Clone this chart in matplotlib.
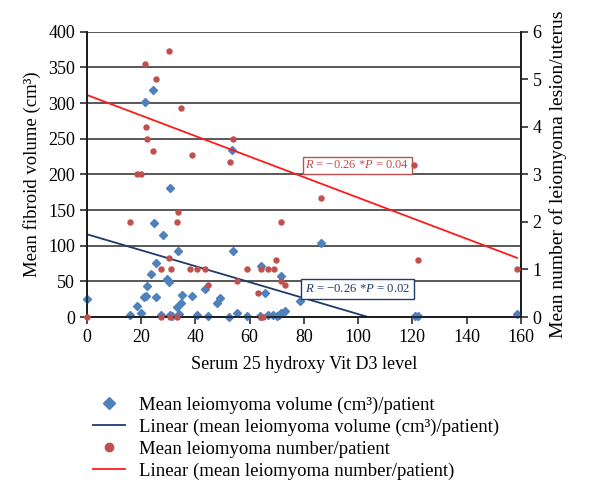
import matplotlib
matplotlib.use('Agg')
import matplotlib.pyplot as plt
from matplotlib.lines import Line2D

plt.rcParams['font.family'] = ['Liberation Serif', 'DejaVu Serif']
plt.rcParams['mathtext.fontset'] = 'custom'
plt.rcParams['mathtext.rm'] = 'Liberation Serif'
plt.rcParams['mathtext.it'] = 'Liberation Serif:italic'

# Mean leiomyoma volume (cm3)/patient  (left axis)
vol_x = [0, 15.9, 18.4, 20.1, 21.0, 21.7, 21.5, 22.0, 23.5, 24.4, 24.6, 25.3, 25.3,
         27.4, 28.1, 29.6, 30.4, 30.7, 30.7, 31.2, 33.2, 33.5, 34.0, 34.5, 35.0,
         38.8, 40.6, 43.5, 44.7, 47.9, 49.1, 52.5, 53.3, 53.8, 55.2, 59.0, 64.0,
         63.7, 65.6, 66.9, 68.7, 70.0, 70.9, 71.4, 71.7, 73.1, 78.5, 86.4, 121.1,
         122.1, 158.6]
vol_y = [25, 3, 16, 6, 28, 29, 301, 44, 60, 318, 132, 76, 28,
         3, 115, 54, 49, 181, 3, 2, 14, 93, 4, 19, 31,
         29, 3, 39, 1, 19, 26, 0.5, 234, 92, 6, 1, 71,
         1, 33, 3, 3, 1, 3, 58, 6, 8, 22, 104, 1,
         2, 4]

# Mean leiomyoma number/patient  (right axis)
num_x = [0, 15.9, 18.4, 20.1, 21.5, 21.7, 22.0, 24.4, 25.3, 27.4, 27.4, 30.4,
         30.4, 31.0, 30.7, 33.1, 33.5, 33.2, 34.5, 38.1, 38.8, 40.6, 43.5, 44.7,
         52.6, 53.8, 55.2, 59.0, 63.1, 64.0, 64.0, 64.8, 66.9, 69.0, 69.8, 71.4,
         71.4, 73.1, 86.4, 120.5, 122.1, 158.6]
num_y = [0, 2.0, 3.0, 3.0, 5.33, 4.0, 3.75, 3.5, 5.0, 1.0, 0, 5.6,
         1.25, 1.0, 0, 2.0, 2.2, 0, 4.4, 1.0, 3.4, 1.0, 1.0, 0.67,
         3.25, 3.75, 0.75, 1.0, 0.5, 1.0, 0, 0, 1.0, 1.0, 1.2, 2.0,
         0.75, 0.67, 2.5, 3.2, 1.2, 1.0]

# Linear trend lines: (intercept, slope, x_start, x_end)
vol_fit = (116.0, -1.119, 0, 103.7)
num_fit = (4.67, -0.0216, 0, 158.6)

x_ticks = [0, 20, 40, 60, 80, 100, 120, 140, 160]
left_ticks = [0, 50, 100, 150, 200, 250, 300, 350, 400]
right_ticks = [0, 1, 2, 3, 4, 5, 6]

blue = '#4f81bd'
red = '#c0504d'
navy = '#1f3b6e'
bright_red = '#ff1a1a'

fig = plt.figure(figsize=(6, 5.04), dpi=100)
ax = fig.add_axes([0.145, 0.371, 0.723, 0.566])
ax2 = ax.twinx()

for t in left_ticks[1:]:
    ax.axhline(t, color='#2b2b2b', lw=1.1, zorder=1)

ax.plot(vol_x, vol_y, linestyle='none', marker='D', ms=4, color=blue,
        mec=blue, zorder=3, clip_on=False)
b0, b1, bs, be = vol_fit
ax.plot([bs, be], [b0 + b1 * bs, b0 + b1 * be], color=navy, lw=1.3, zorder=2)

ax2.plot(num_x, num_y, linestyle='none', marker='o', ms=3.6, color=red,
         mec=red, zorder=3, clip_on=False)
r0, r1, rs, re_ = num_fit
ax2.plot([rs, re_], [r0 + r1 * rs, r0 + r1 * re_], color=bright_red, lw=1.3, zorder=2)

ax.set_xlim(0, 160)
ax.set_ylim(0, 400)
ax2.set_ylim(0, 6)
ax.set_xticks(x_ticks)
ax.set_yticks(left_ticks)
ax2.set_yticks(right_ticks)

for a in (ax, ax2):
    for s in a.spines.values():
        s.set_color('#1a1a1a')
        s.set_linewidth(1.2)
    a.spines['top'].set_visible(False)
ax.tick_params(axis='both', direction='out', length=5, width=1.1, labelsize=13,
               color='#1a1a1a')
ax2.tick_params(axis='y', direction='out', length=5, width=1.1, labelsize=13,
                color='#1a1a1a')

ax.set_xlabel('Serum 25 hydroxy Vit D3 level', fontsize=13, labelpad=7)
ax.set_ylabel('Mean fibroid volume (cm³)', fontsize=13.5, labelpad=5)
ax2.set_ylabel('Mean number of leiomyoma lesion/uterus', fontsize=14, labelpad=5)

ax.text(80.5, 213, r'$R$ = −0.26 *$P$ = 0.04', color=red, fontsize=9,
        va='center', ha='left', zorder=5,
        bbox=dict(boxstyle='square,pad=0.2', fc='white', ec=red, lw=1.0))
ax.text(80.5, 39, r'$R$ = −0.26 *$P$ = 0.02', color=navy, fontsize=9.2,
        va='center', ha='left', zorder=5,
        bbox=dict(boxstyle='square,pad=0.3', fc='white', ec=navy, lw=1.0))

handles = [
    Line2D([], [], linestyle='none', marker='D', ms=6, color=blue),
    Line2D([], [], color=navy, lw=1.3),
    Line2D([], [], linestyle='none', marker='o', ms=6, color=red),
    Line2D([], [], color=bright_red, lw=1.3),
]
labels = [
    'Mean leiomyoma volume (cm³)/patient',
    'Linear (mean leiomyoma volume (cm³)/patient)',
    'Mean leiomyoma number/patient',
    'Linear (mean leiomyoma number/patient)',
]
fig.legend(handles, labels, loc='upper left', bbox_to_anchor=(0.142, 0.228),
           frameon=False, fontsize=13.5, handlelength=1.7, handletextpad=0.75,
           labelspacing=0.25, borderaxespad=0)

fig.savefig('out.png', dpi=100)
